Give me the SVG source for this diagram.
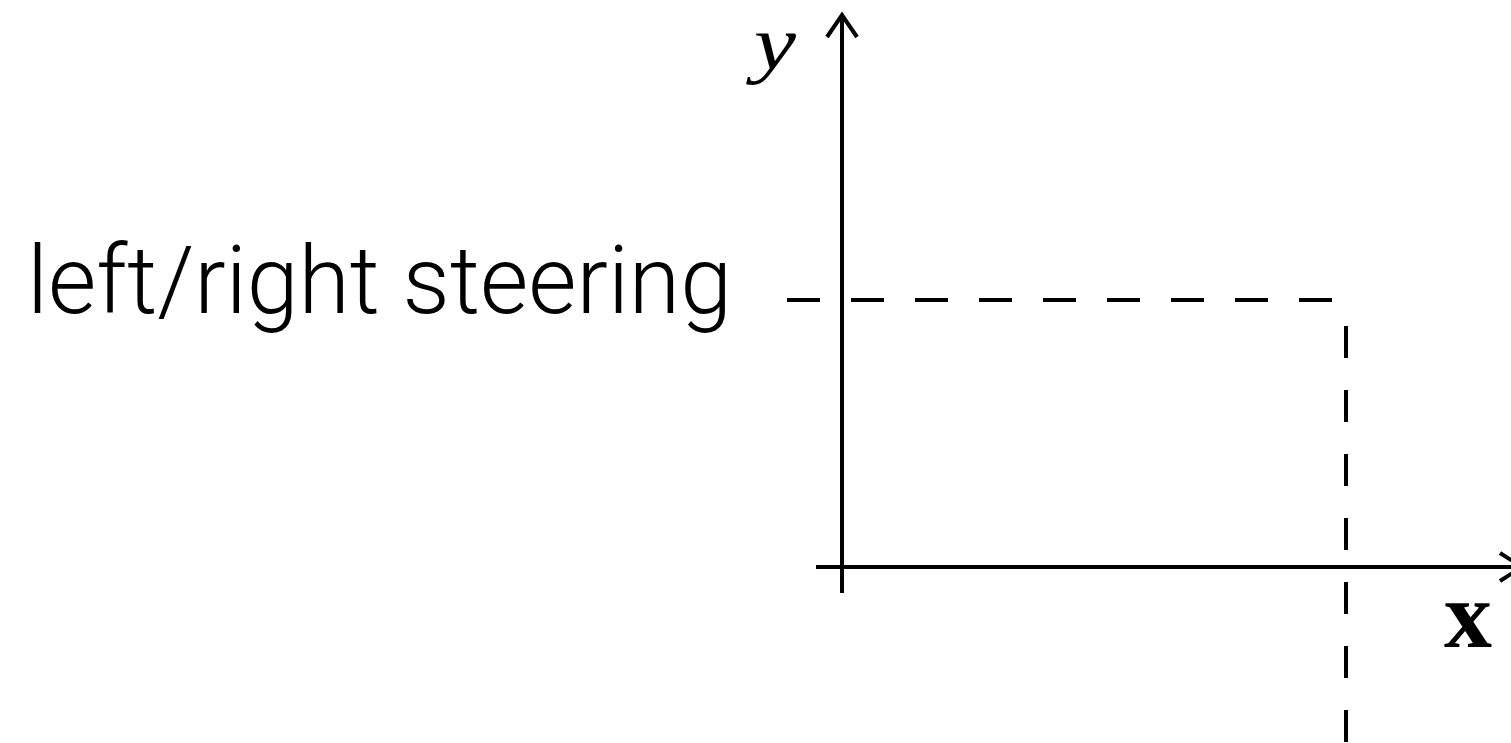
<svg xmlns="http://www.w3.org/2000/svg" width="1511" height="743" viewBox="0 0 1511 743">
  <style>
    .ax { stroke: #000; stroke-width: 4; fill: none; }
    .dash { stroke: #000; stroke-width: 4; fill: none; stroke-dasharray: 33 31; }
    .head { stroke: #000; stroke-width: 4; fill: none; stroke-linecap: butt; stroke-linejoin: miter; }
    .lbl { font-family: Roboto, "Liberation Sans", sans-serif; font-weight: 300; font-size: 95px; fill: #000; }
    .math { font-family: "Liberation Serif", "DejaVu Serif", serif; fill: #000; }
  </style>
  <rect width="1511" height="743" fill="#fff"/>
  <g id="connectors">
    <g id="y-axis">
      <line class="ax" x1="842" y1="593" x2="842" y2="15"/>
      <polyline class="head" points="827,37 842,15 857,37"/>
    </g>
    <g id="x-axis">
      <line class="ax" x1="816" y1="567" x2="1522" y2="567"/>
      <polyline class="head" points="1500,553 1522,567 1500,581"/>
    </g>
    <line id="h-dash" class="dash" x1="787" y1="300" x2="1335" y2="300"/>
    <line id="v-dash" class="dash" x1="1346" y1="326" x2="1346" y2="743" style="stroke-dasharray:32 32"/>
  </g>
  <g id="label-steering">
    <text class="lbl" x="27" y="313" textLength="705" lengthAdjust="spacingAndGlyphs">left/right steering</text>
  </g>
  <g id="label-y">
    <text class="math" x="754" y="69" font-size="76" font-style="italic" textLength="42" lengthAdjust="spacingAndGlyphs">y</text>
  </g>
  <g id="label-x">
    <text class="math" x="1468" y="647" font-size="96" font-weight="bold" text-anchor="middle">x</text>
  </g>
</svg>
